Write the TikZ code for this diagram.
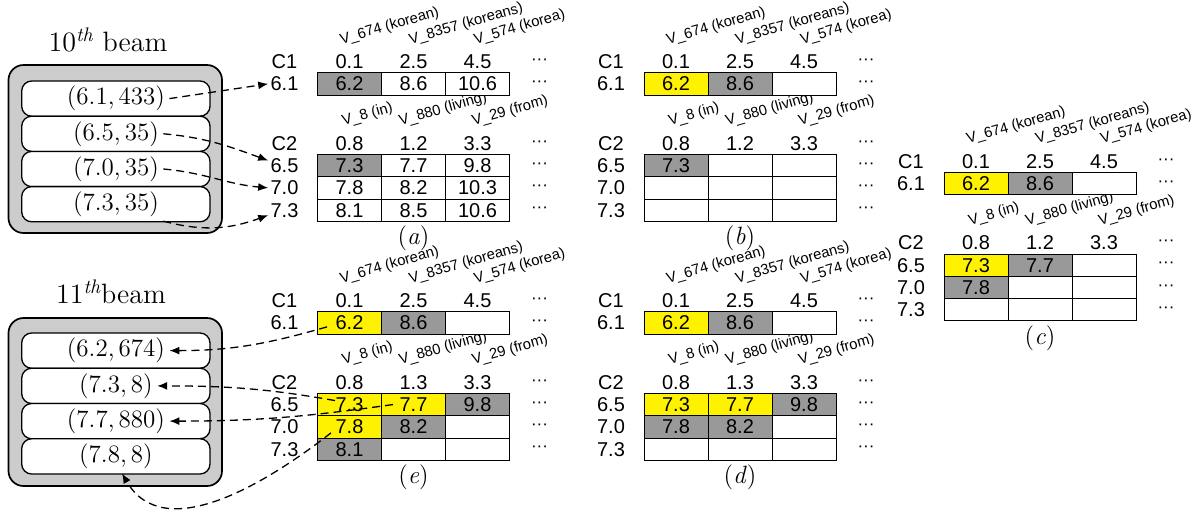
\documentclass[tikz,border=0pt]{standalone}
\usepackage{fontspec}
\newfontfamily\hv{Liberation Sans}
\usetikzlibrary{arrows.meta}

\definecolor{beamgray}{HTML}{CCCCCC}
\definecolor{cand}{HTML}{999999}
\colorlet{chosen}{yellow}

% one score table: name, x, y, second C2 header, C1 cells, C2 cells, caption
\newcommand{\tabpanel}[7]{%
\begin{scope}[shift={(#2,-#3)}]
% row labels
\node[lab] (#1-c1) at (-33,11) {C1};
\node[lab] (#1-l1) at (-33,-11.15) {6.1};
\node[lab] (#1-c2) at (-33,-70.7) {C2};
\foreach \lb [count=\k from 2] in {6.5,7.0,7.3}
  \node[lab] (#1-l\k) at (-33,{-92.85-22.3*(\k-2)}) {\lb};
% headers
\foreach \h [count=\ci] in {0.1,2.5,4.5}
  \node[lab] (#1-h1\ci) at ({64*\ci-32},11) {\h};
\foreach \h [count=\ci] in {0.8,#4,3.3}
  \node[lab] (#1-h2\ci) at ({64*\ci-32},-70.7) {\h};
\foreach \w/\dx [count=\ci] in {V\_674 (korean)/-8, V\_8357 (koreans)/-3, V\_574 (korea)/-2}
  \node[word] (#1-w1\ci) at ({64*\ci-32+\dx},24) {\w};
\foreach \w/\dx [count=\ci] in {V\_8 (in)/-6, V\_880 (living)/-13, V\_29 (from)/-4}
  \node[word] (#1-w2\ci) at ({64*\ci-32+\dx},-57.7) {\w};
% cells
\foreach \val/\fc [count=\ci] in {#5}
  \node[cell, fill=\fc] (#1-0-\ci) at ({64*\ci-32},-11.15) {\val};
\foreach \val/\fc [count=\nn] in {#6} {
  \pgfmathtruncatemacro\ri{(\nn-1)/3+1}
  \pgfmathtruncatemacro\ci{mod(\nn-1,3)+1}
  \node[cell, fill=\fc] (#1-\ri-\ci) at ({64*\ci-32},{-92.85-22.3*(\ri-1)}) {\val};
}
% dots
\foreach \y [count=\k] in {11,-11.15,-70.7,-92.85,-115.15,-137.45}
  \node[dotnode] (#1-d\k) at (222,\y) {···};
\node[subcap] (#1-cap) at (96,-165.6) {(\textit{#7})};
\end{scope}}

\begin{document}
\begin{tikzpicture}[x=0.5pt, y=0.5pt,
  lab/.style={font=\hv\fontsize{10}{12}\selectfont, inner sep=1pt},
  word/.style={font=\hv\fontsize{7.4}{8}\selectfont, anchor=south west, rotate=16, inner sep=0.5pt},
  cell/.style={draw, line width=0.5pt, minimum width=32pt, minimum height=11.15pt,
    inner sep=0.5pt, font=\hv\fontsize{10}{12}\selectfont},
  dotnode/.style={font=\hv\fontsize{8.5}{10}\selectfont, inner sep=0pt},
  subcap/.style={font=\fontsize{12.5}{15}\selectfont},
  entry/.style={font=\fontsize{12.5}{15}\selectfont, inner sep=2pt},
  beamtitle/.style={font=\fontsize{14}{16}\selectfont, anchor=base},
  outerbox/.style={draw, fill=beamgray, line width=0.85pt, rounded corners=7.5pt},
  innerbox/.style={draw, fill=white, line width=0.65pt, rounded corners=5pt},
  link/.style={dash pattern=on 4pt off 2.5pt, line width=0.65pt, -{Latex[length=5pt,width=4pt]}}]

\useasboundingbox (0,0) rectangle (1197,-515);

% 10th beam
\node[beamtitle] (beam10) at (108,-51.5) {10\textsuperscript{\itshape th} beam};
\draw[outerbox] (8.5,-65) rectangle (222,-233);
\foreach \y in {81,116.2,151.4,186.6}
  \draw[innerbox] (21.7,-\y) rectangle (210,{-\y-35.2});
\node[entry] (b10-1) at (116,-98.6) {(6.1,\,433)};
\node[entry] (b10-2) at (116,-133.8) {(6.5,\,35)};
\node[entry] (b10-3) at (116,-169) {(7.0,\,35)};
\node[entry] (b10-4) at (116,-204.2) {(7.3,\,35)};

% 11th beam
\node[beamtitle] (beam11) at (111,-303.5) {11\textsuperscript{\itshape th}beam};
\draw[outerbox] (8.5,-318) rectangle (222,-486);
\foreach \y in {333,368.25,403.5,438.75}
  \draw[innerbox] (21.7,-\y) rectangle (210,{-\y-35.25});
\node[entry] (b11-1) at (116,-350.6) {(6.2,\,674)};
\node[entry] (b11-2) at (116,-385.9) {(7.3,\,8)};
\node[entry] (b11-3) at (116,-421.1) {(7.7,\,880)};
\node[entry] (b11-4) at (116,-456.4) {(7.8,\,8)};

% tables
\tabpanel{a}{317.5}{72.7}{1.2}{6.2/cand,8.6/white,10.6/white}
  {7.3/cand,7.7/white,9.8/white,7.8/white,8.2/white,10.3/white,8.1/white,8.5/white,10.6/white}{a}
\tabpanel{b}{644}{72.7}{1.2}{6.2/chosen,8.6/cand,{}/white}
  {7.3/cand,{}/white,{}/white,{}/white,{}/white,{}/white,{}/white,{}/white,{}/white}{b}
\tabpanel{c}{944}{172.3}{1.2}{6.2/chosen,8.6/cand,{}/white}
  {7.3/chosen,7.7/cand,{}/white,7.8/cand,{}/white,{}/white,{}/white,{}/white,{}/white}{c}
\tabpanel{d}{644}{311.7}{1.3}{6.2/chosen,8.6/cand,{}/white}
  {7.3/chosen,7.7/chosen,9.8/cand,7.8/cand,8.2/cand,{}/white,{}/white,{}/white,{}/white}{d}
\tabpanel{e}{317.5}{311.7}{1.3}{6.2/chosen,8.6/cand,{}/white}
  {7.3/chosen,7.7/chosen,9.8/cand,7.8/chosen,8.2/cand,{}/white,8.1/cand,{}/white,{}/white}{e}

% 10th beam -> (a)
\draw[link] (b10-1.east) -- (a-l1.west);
\draw[link] (b10-2.east) to[out=-5,in=160] ([yshift=2.5pt]a-l2.west);
\draw[link] (b10-3.east) to[out=-5,in=175] (a-l3.west);
\draw[link] (b10-4.south east) to[out=-15,in=200] ([yshift=-2.5pt]a-l4.west);

% (e) -> 11th beam
\draw[link] ([xshift=5pt,yshift=-2pt]e-0-1.west) to[out=196,in=0] (b11-1.east);
\draw[link] ([xshift=9pt,yshift=2pt]e-1-1.west) to[out=170,in=0] (b11-2.east);
\draw[link] ([xshift=6pt]e-1-2.west) to[out=188,in=0] (b11-3.east);
\draw[link] ([xshift=7pt,yshift=-3pt]e-2-1.west) to[out=218,in=300] ([xshift=3pt]b11-4.south);

\end{tikzpicture}
\end{document}
